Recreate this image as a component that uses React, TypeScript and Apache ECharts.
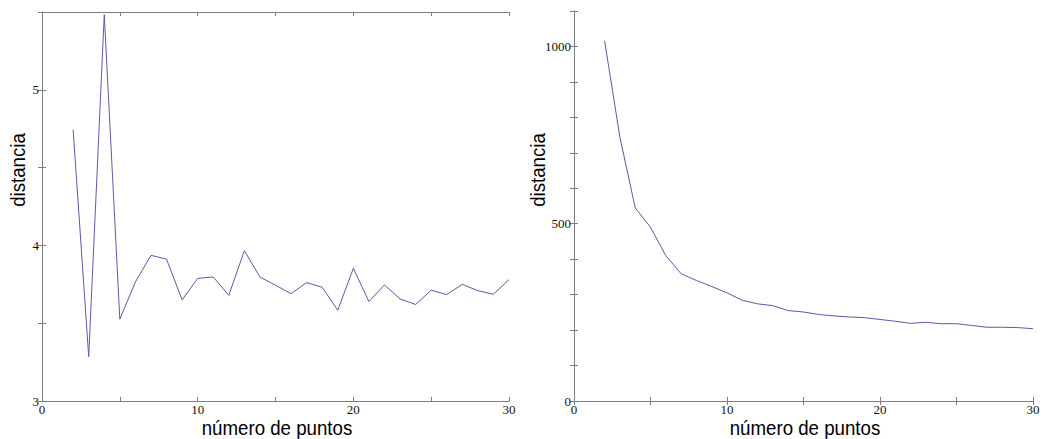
import React, { useEffect, useRef } from "react";
import * as echarts from "echarts";

const puntos = [2, 3, 4, 5, 6, 7, 8, 9, 10, 11, 12, 13, 14, 15, 16, 17, 18, 19, 20, 21, 22, 23, 24, 25, 26, 27, 28, 29, 30];
const distanciaA = [4.744, 3.285, 5.483, 3.526, 3.765, 3.936, 3.912, 3.65, 3.788, 3.797, 3.679, 3.966, 3.797, 3.744, 3.69, 3.761, 3.731, 3.583, 3.853, 3.639, 3.746, 3.656, 3.62, 3.712, 3.684, 3.75, 3.709, 3.686, 3.78];
const distanciaB = [1016, 744, 545, 490, 410, 359, 340, 323, 305, 284, 274, 269, 255, 251, 244, 240, 237, 235, 230, 225, 219, 222, 218, 218, 213, 208, 208, 207, 204];

const xLabelsShown = [0, 10, 20, 30];
const yLabelsA = [3, 4, 5];
const yLabelsB = [0, 500, 1000];

const xName = "número de puntos";
const yName = "distancia";

const axisGrey = "#7f7f7f";
const lineColor = "#5a5aa8";
const tickFont = "Liberation Serif, Times New Roman, serif";
const nameFont = "Liberation Sans, Arial, sans-serif";

export default function App() {
  const ref = useRef<HTMLDivElement>(null);
  useEffect(() => {
    if (!ref.current) return;
    const chart = echarts.init(ref.current, null, { renderer: "svg" });

    const xAxisBase = (gridIndex: number) => ({
      type: "value",
      gridIndex,
      min: 0,
      max: 30,
      interval: 5,
      axisLine: { show: true, lineStyle: { color: axisGrey, width: 1 } },
      axisTick: { show: true, inside: true, length: 4, lineStyle: { color: axisGrey } },
      splitLine: { show: false },
    });
    const yAxisBase = (gridIndex: number, min: number, max: number, interval: number) => ({
      type: "value",
      gridIndex,
      min,
      max,
      interval,
      axisLine: { show: true, lineStyle: { color: axisGrey, width: 1 } },
      axisTick: { show: true, inside: true, length: 4, lineStyle: { color: axisGrey } },
      splitLine: { show: false },
    });
    const tickLabel = (shown: number[], margin: number) => ({
      show: true,
      margin,
      fontFamily: tickFont,
      fontSize: 13,
      color: "#111",
      formatter: (v: number) => (shown.includes(v) ? String(v) : ""),
    });

    const nameText = (x: number, y: number, text: string, rotated: boolean) => ({
      type: "text",
      x,
      y,
      rotation: rotated ? Math.PI / 2 : 0,
      scaleX: 0.89,
      scaleY: 1,
      silent: true,
      style: {
        text,
        fontFamily: nameFont,
        fontSize: 21,
        fill: "#000",
        textAlign: "center",
        textVerticalAlign: "bottom",
      },
    });

    const option: any = {
      animation: false,
      backgroundColor: "#ffffff",
      grid: [
        { left: 42, top: 12, width: 467, height: 389, outerBoundsMode: "none", containLabel: false },
        { left: 574, top: 11, width: 459, height: 390, outerBoundsMode: "none", containLabel: false },
      ],
      xAxis: [
        { ...xAxisBase(0), position: "bottom", axisLabel: tickLabel(xLabelsShown, 2) },
        { ...xAxisBase(0), position: "top", axisLabel: { show: false } },
        { ...xAxisBase(1), position: "bottom", axisLabel: tickLabel(xLabelsShown, 2) },
        { ...xAxisBase(1), position: "top", axisLabel: { show: false } },
      ],
      yAxis: [
        { ...yAxisBase(0, 3, 5.5, 0.5), position: "left", axisLabel: tickLabel(yLabelsA, 3) },
        { ...yAxisBase(0, 3, 5.5, 0.5), position: "right", axisLabel: { show: false } },
        { ...yAxisBase(1, 0, 1100, 100), position: "left", axisLabel: tickLabel(yLabelsB, 3) },
        { ...yAxisBase(1, 0, 1100, 100), position: "right", axisLabel: { show: false } },
      ],
      graphic: [
        nameText(277, 438, xName, false),
        nameText(805, 438, xName, false),
        nameText(28, 170, yName, true),
        nameText(548, 170, yName, true),
      ],
      series: [
        {
          type: "line",
          xAxisIndex: 0,
          yAxisIndex: 0,
          data: puntos.map((p, i) => [p, distanciaA[i]]),
          showSymbol: false,
          symbol: "none",
          lineStyle: { color: lineColor, width: 1 },
        },
        {
          type: "line",
          xAxisIndex: 2,
          yAxisIndex: 2,
          data: puntos.map((p, i) => [p, distanciaB[i]]),
          showSymbol: false,
          symbol: "none",
          lineStyle: { color: lineColor, width: 1 },
        },
      ],
    };
    chart.setOption(option);
    return () => chart.dispose();
  }, []);

  return (
    <div
      ref={ref}
      style={{ position: "fixed", left: 0, top: 0, width: 1051, height: 439, background: "#fff" }}
    />
  );
}
